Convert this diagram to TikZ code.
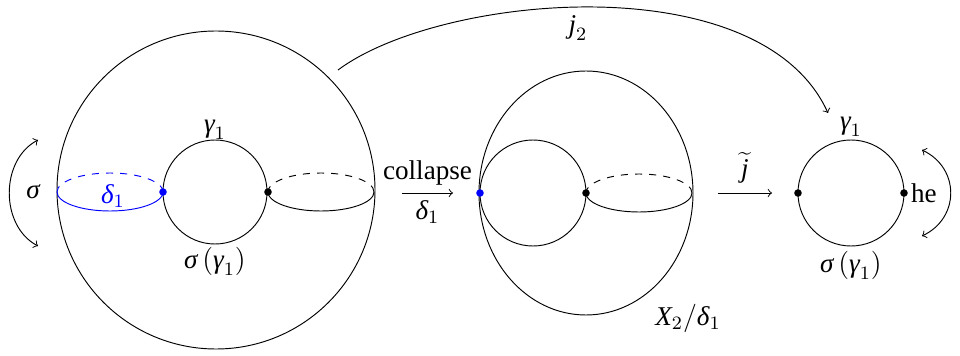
\documentclass[tikz,border=0pt]{standalone}
\usepackage{fontspec}
\setmainfont{Liberation Serif}
\newcommand{\gi}[1]{\mbox{\itshape #1}}
\begin{document}
\begin{tikzpicture}[x=0.424pt,y=0.424pt,
  font=\fontsize{11.5}{14}\selectfont,
  dot/.style={circle,fill,inner sep=0pt,minimum size=3.2pt},
  lbl/.style={inner sep=1pt},
  every path/.style={line width=0.4pt}]
\useasboundingbox (0,0) rectangle (960,356);
% left figure
\draw (216,166) circle[radius=159];
\draw (215,164) circle[radius=52];
\draw[blue] (57,164) arc[start angle=180,end angle=360,x radius=53,y radius=19];
\draw[blue,dashed] (163,164) arc[start angle=0,end angle=180,x radius=53,y radius=19];
\draw (268,164) arc[start angle=180,end angle=360,x radius=53,y radius=19];
\draw[dashed] (374,164) arc[start angle=0,end angle=180,x radius=53,y radius=19];
\node[dot,blue] (b1) at (163,164) {};
\node[dot] (k1) at (268,164) {};
\node[lbl,text=blue] (d1) at (113,160) {$\gi{δ}_1$};
\node[lbl] (s1) at (33,164) {$\gi{σ}$};
\node[lbl] (g1) at (215,226) {$\gi{γ}_1$};
\node[lbl] (sg1) at (215,95) {$\gi{σ}\,(\gi{γ}_1)$};
\coordinate (sa) at (38,216);
\coordinate (sb) at (38,110);
\draw[<->] (sa) .. controls (0,196) and (0,130) .. (sb);
% collapse arrow
\coordinate (ca) at (402,163);
\coordinate (cb) at (453,163);
\draw[->] (ca) -- node[above,inner sep=3pt]{collapse} node[below,inner sep=3pt]{$\gi{δ}_1$} (cb);
% middle figure
\draw (586,163) ellipse[x radius=107,y radius=122];
\draw (533,163) circle[radius=53];
\draw (586,163) arc[start angle=180,end angle=360,x radius=53,y radius=19];
\draw[dashed] (692,163) arc[start angle=0,end angle=180,x radius=53,y radius=19];
\node[dot,blue] (b2) at (480,163) {};
\node[dot] (k2) at (586,163) {};
\node[lbl] (x2) at (688,38) {$\gi{X}_2/\gi{δ}_1$};
% j tilde arrow
\coordinate (ja) at (718,163);
\coordinate (jb) at (772,163);
\draw[->] (ja) -- node[above,inner sep=4pt]{$\widetilde{\gi{j}}$} (jb);
% right figure
\draw (851,163) circle[radius=53];
\node[dot] (k3) at (798,163) {};
\node[dot] (k4) at (904,163) {};
\node[lbl,anchor=west] (he) at (k4.east) {he};
\node[lbl] (g2) at (851,229) {$\gi{γ}_1$};
\node[lbl] (sg2) at (851,91) {$\gi{σ}\,(\gi{γ}_1)$};
\coordinate (ra) at (922,206);
\coordinate (rb) at (922,120);
\draw[<->] (ra) .. controls (960,188) and (960,138) .. (rb);
% j2
\coordinate (j2a) at (338,286);
\coordinate (j2b) at (828,243);
\draw[->] (j2a) .. controls (440,362) and (760,392) .. (j2b);
\node[lbl] (j2) at (578,328) {$\gi{j}_2$};
\end{tikzpicture}
\end{document}
